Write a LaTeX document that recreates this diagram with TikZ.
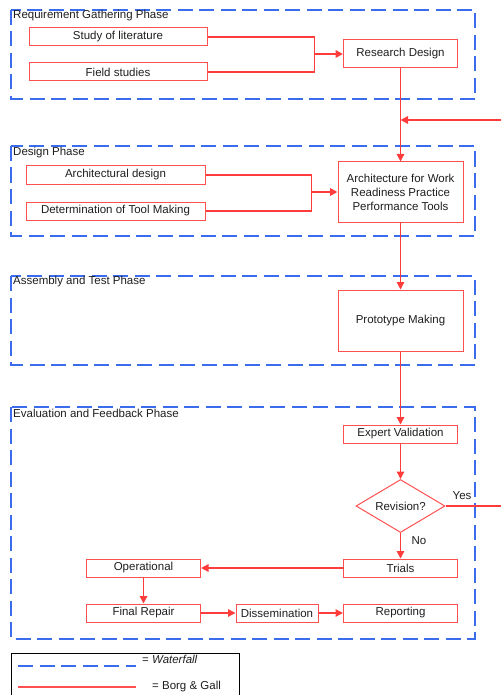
\documentclass[tikz,border=0pt]{standalone}
\usepackage{fontspec}
\setmainfont{Liberation Sans}
\usetikzlibrary{shapes.geometric,arrows.meta}
\definecolor{wfblue}{RGB}{59,108,238}
\definecolor{bgred}{RGB}{255,60,60}
\definecolor{boxred}{RGB}{255,80,80}
\definecolor{txt}{RGB}{30,30,30}
\tikzset{
  box/.style={draw=boxred,line width=1pt,rectangle,inner sep=1pt,
    text=txt,align=center,font=\fontsize{11.5}{14}\selectfont},
  phase/.style={draw=wfblue,line width=1.8pt,dash pattern=on 15pt off 6.5pt},
  phaselabel/.style={anchor=west,inner sep=0pt,text=txt,font=\fontsize{11.5}{13}\selectfont},
  flow/.style={draw=bgred,line width=1.4pt},
  arrow/.style={flow,-{Triangle[length=7.5pt,width=7.5pt]}},
  fatarrow/.style={arrow,line width=2pt}
}
\begin{document}
\begin{tikzpicture}[x=1pt,y=-1pt]
    \useasboundingbox (0,0) rectangle (500,695);
    % Phase frames
    \draw[phase] (11,10) rectangle (475,99);
    \draw[phase] (11,146) rectangle (475,236);
    \draw[phase] (11,276) rectangle (475,365);
    \draw[phase] (11,407) rectangle (475,639);
    \node[phaselabel] (lbl1) at (13,16) {Requirement Gathering Phase};
    \node[phaselabel] (lbl2) at (13,153) {Design Phase};
    \node[phaselabel] (lbl3) at (13,282) {Assembly and Test Phase};
    \node[phaselabel] (lbl4) at (13,413) {Evaluation and Feedback Phase};
    % Boxes
    \node[box,minimum width=178pt,minimum height=18pt] (lit) at (118,37) {Study of literature};
    \node[box,minimum width=178pt,minimum height=18pt] (field) at (118,72) {Field studies};
    \node[box,minimum width=114pt,minimum height=28pt] (rd) at (400.5,54) {Research Design};
    \node[box,minimum width=179pt,minimum height=18pt] (archd) at (115.5,175) {Architectural design};
    \node[box,minimum width=179pt,minimum height=18pt] (tool) at (115.5,211) {Determination of Tool Making};
    \node[box,minimum width=125pt,minimum height=60pt] (awr) at (400.5,192)
      {Architecture for Work\\Readiness Practice\\Performance Tools};
    \node[box,minimum width=125pt,minimum height=61pt] (proto) at (400.5,320.5) {Prototype Making};
    \node[box,minimum width=114pt,minimum height=18pt] (expert) at (400.5,434) {Expert Validation};
    \node[box,diamond,aspect=1.68,minimum width=89pt,minimum height=53pt,inner sep=0pt] (rev) at (400.5,506) {Revision?};
    \node[box,minimum width=114pt,minimum height=18pt] (trials) at (400.5,568) {Trials};
    \node[box,minimum width=114pt,minimum height=18pt] (oper) at (143.5,568) {Operational};
    \node[box,minimum width=114pt,minimum height=18pt] (final) at (143.5,613) {Final Repair};
    \node[box,minimum width=82pt,minimum height=18pt] (diss) at (277,613) {Dissemination};
    \node[box,minimum width=114pt,minimum height=18pt] (rep) at (400.5,613) {Reporting};
    % Junctions and feedback corners
    \coordinate (j1) at (314.5,54);
    \coordinate (j2) at (311.5,192);
    \coordinate (fbr) at (503,506);
    \coordinate (fb) at (503,120);
    % Connectors
    \draw[flow] (lit.east) -| (j1);
    \draw[flow] (field.east) -| (j1);
    \draw[fatarrow] (j1) -- (rd.west);
    \draw[flow] (archd.east) -| (j2);
    \draw[flow] (tool.east) -| (j2);
    \draw[fatarrow] (j2) -- (awr.west);
    \draw[arrow] (rd.south) -- (awr.north);
    \draw[arrow] (fb) -- (fb -| rd.south);
    \draw[arrow] (awr.south) -- (proto.north);
    \draw[arrow] (proto.south) -- (expert.north);
    \draw[arrow] (expert.south) -- (rev.north);
    \draw[flow] (rev.east) -- (fbr) -- (fb);
    \draw[arrow] (rev.south) -- (trials.north);
    \draw[arrow] (trials.west) -- (oper.east);
    \draw[arrow] (oper.south) -- (final.north);
    \draw[arrow] (final.east) -- (diss.west);
    \draw[arrow] (diss.east) -- (rep.west);
    \node[phaselabel,anchor=center] (yes) at (462,496) {Yes};
    \node[phaselabel,anchor=center] (no) at (419,541) {No};
    % Legend
    \draw[black,line width=0.8pt] (11,653) rectangle (239,705);
    \coordinate (wfa) at (18,666);
    \coordinate (wfb) at (136,666);
    \coordinate (bga) at (18,687);
    \coordinate (bgb) at (136,687);
    \draw[phase] (wfa) -- (wfb);
    \draw[flow,draw=boxred] (bga) -- (bgb);
    \node[phaselabel] (wf) at (142,659) {= \textit{Waterfall}};
    \node[phaselabel] (bg) at (152,687) {= Borg \& Gall};
\end{tikzpicture}
\end{document}
